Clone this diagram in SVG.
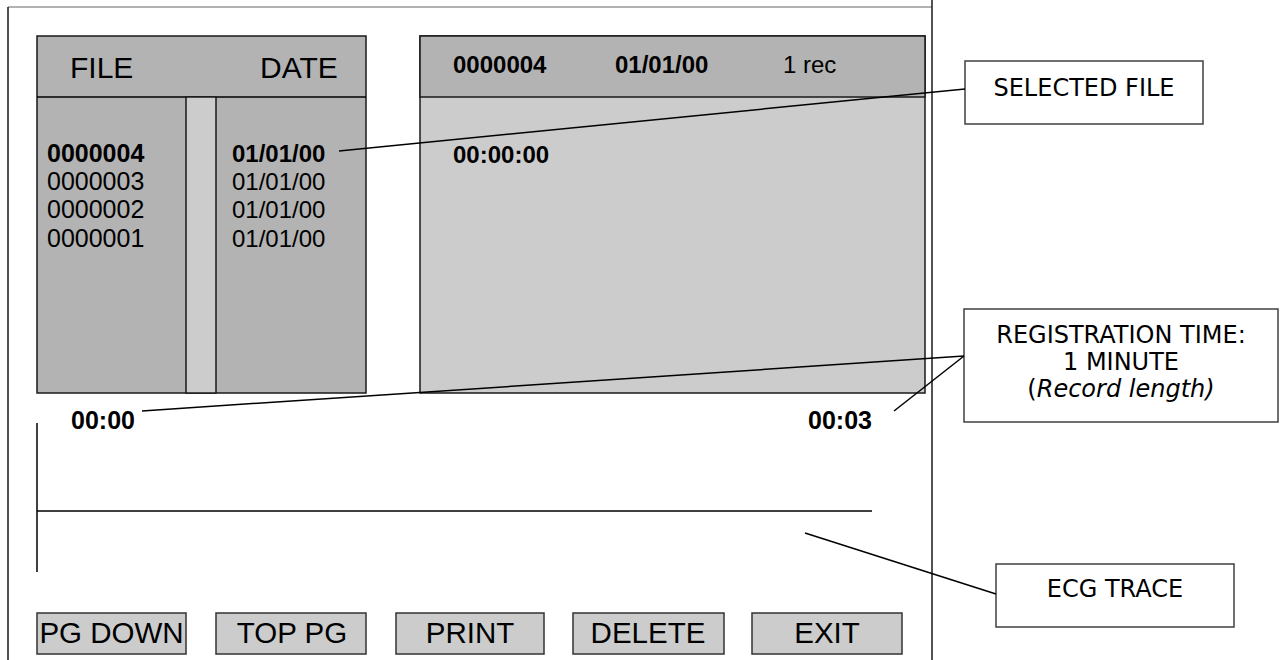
<svg xmlns="http://www.w3.org/2000/svg" width="1286" height="660" viewBox="0 0 1286 660">
<style>
.dark{fill:#b3b3b3;stroke:#1a1a1a;stroke-width:1.5}
.light{fill:#cccccc;stroke:#1a1a1a;stroke-width:1.5}
.btn{fill:#cccccc;stroke:#333333;stroke-width:1.5}
.call{fill:#ffffff;stroke:#404040;stroke-width:1.5}
.ln{stroke:#000000;stroke-width:1.5;fill:none}
.t{font-family:"Liberation Sans",Arial,sans-serif;fill:#000000}
.b{font-weight:bold}
.ct{font-family:"DejaVu Sans",Verdana,sans-serif;font-size:24px;fill:#000000;text-anchor:middle}
.bt{font-family:"Liberation Sans",Arial,sans-serif;font-size:29.5px;fill:#000000;text-anchor:middle}
</style>
<rect width="1286" height="660" fill="#ffffff"/>
<g id="frame">
<line x1="8" y1="7" x2="932" y2="7" stroke="#999999" stroke-width="1.5"/>
<line x1="8" y1="7" x2="8" y2="660" stroke="#1a1a1a" stroke-width="1.5"/>
<line x1="932" y1="0" x2="932" y2="660" stroke="#1a1a1a" stroke-width="1.5"/>
</g>
<g id="file-list">
<rect class="dark" x="37" y="36" width="329" height="357"/>
<line class="ln" x1="37" y1="97" x2="366" y2="97" stroke="#1a1a1a"/>
<rect class="light" x="186" y="97" width="30" height="296"/>
<text class="t" x="70" y="78" font-size="30">FILE</text>
<text class="t" x="260" y="78" font-size="30">DATE</text>
<text class="t b" x="47" y="162" font-size="25">0000004</text>
<text class="t" x="47" y="190" font-size="25">0000003</text>
<text class="t" x="47" y="218" font-size="25">0000002</text>
<text class="t" x="47" y="247" font-size="25">0000001</text>
<text class="t b" x="232" y="162" font-size="24">01/01/00</text>
<text class="t" x="232" y="190" font-size="24">01/01/00</text>
<text class="t" x="232" y="218" font-size="24">01/01/00</text>
<text class="t" x="232" y="247" font-size="24">01/01/00</text>
</g>
<g id="file-detail">
<rect class="light" x="420" y="36" width="505" height="357"/>
<rect class="dark" x="420" y="36" width="505" height="61"/>
<text class="t b" x="453" y="73" font-size="24">0000004</text>
<text class="t b" x="615" y="73" font-size="24">01/01/00</text>
<text class="t" x="783" y="73" font-size="24">1 rec</text>
<text class="t b" x="453" y="163" font-size="24">00:00:00</text>
</g>
<g id="ecg-area">
<text class="t b" x="71" y="429" font-size="25">00:00</text>
<text class="t b" x="808" y="429" font-size="25">00:03</text>
<line class="ln" x1="37" y1="423" x2="37" y2="572"/>
<line class="ln" x1="37" y1="511" x2="872" y2="511"/>
</g>
<g id="buttons">
<g id="btn-pgdown"><rect class="btn" x="37" y="613" width="149" height="41"/><text class="bt" x="111.5" y="643">PG DOWN</text></g>
<g id="btn-toppg"><rect class="btn" x="216" y="613" width="150" height="41"/><text class="bt" x="292" y="643">TOP PG</text></g>
<g id="btn-print"><rect class="btn" x="396" y="613" width="148" height="41"/><text class="bt" x="470" y="643">PRINT</text></g>
<g id="btn-delete"><rect class="btn" x="573" y="613" width="151" height="41"/><text class="bt" x="648" y="643">DELETE</text></g>
<g id="btn-exit"><rect class="btn" x="752" y="613" width="150" height="41"/><text class="bt" x="827" y="643">EXIT</text></g>
</g>
<g id="callout-selected">
<rect class="call" x="965" y="61" width="238" height="63"/>
<text class="ct" x="1084" y="96">SELECTED FILE</text>
</g>
<g id="callout-registration">
<rect class="call" x="964" y="309" width="314" height="113"/>
<text class="ct" x="1121" y="343">REGISTRATION TIME:</text>
<text class="ct" x="1121" y="370">1 MINUTE</text>
<text class="ct" x="1121" y="397">(<tspan font-style="italic">Record length)</tspan></text>
</g>
<g id="callout-ecg">
<rect class="call" x="996" y="564" width="238" height="63"/>
<text class="ct" x="1115" y="597">ECG TRACE</text>
</g>
<g id="connectors">
<line class="ln" x1="339" y1="151" x2="965" y2="89"/>
<line class="ln" x1="142" y1="411" x2="964" y2="356"/>
<line class="ln" x1="894" y1="411" x2="964" y2="356"/>
<line class="ln" x1="805" y1="533" x2="996" y2="594"/>
</g>
</svg>
